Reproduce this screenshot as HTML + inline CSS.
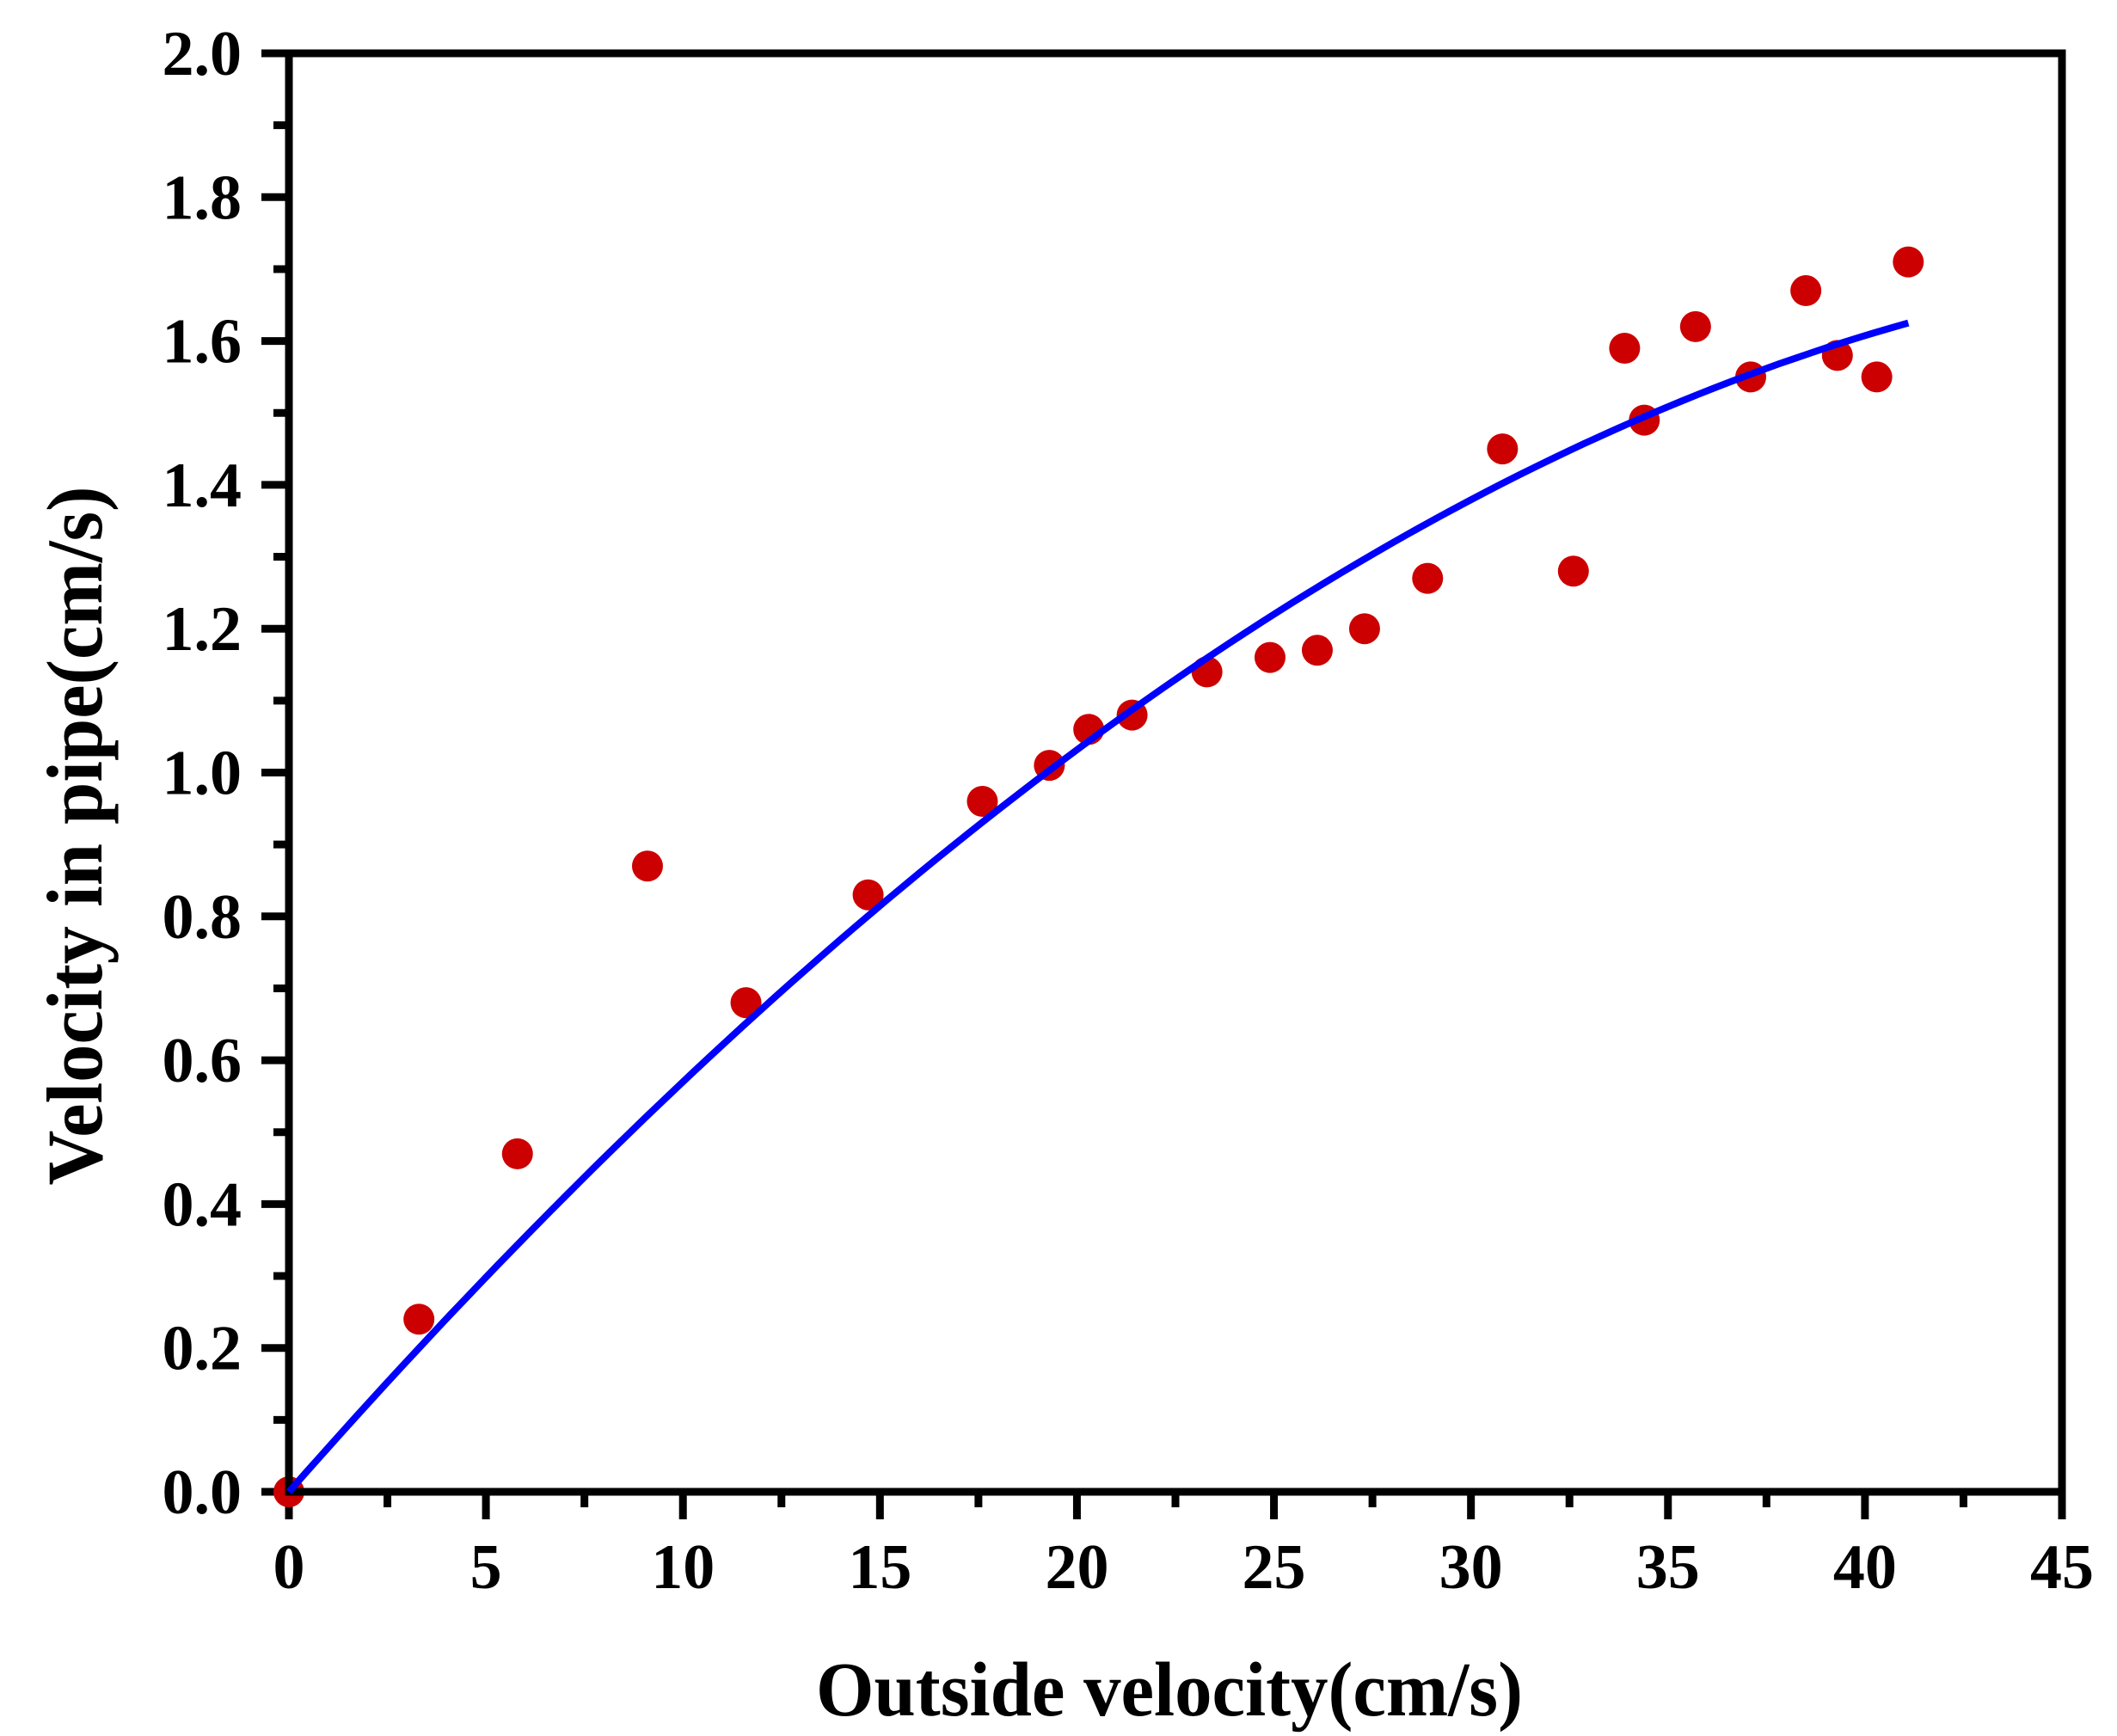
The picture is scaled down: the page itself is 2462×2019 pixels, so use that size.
<!DOCTYPE html>
<html><head><meta charset="utf-8"><style>
html,body{margin:0;padding:0;background:#fff;}
svg{display:block;}
text{font-family:"Liberation Serif",serif;font-weight:bold;fill:#000;}
</style></head><body>
<svg id="chart" width="2462" height="2019" viewBox="0 0 2462 2019" xmlns="http://www.w3.org/2000/svg">
<g id="axes"></g>
<g id="fit"></g>
<g id="pts"></g>
<g id="frame"></g>
<text x="1360" y="1995" font-size="90" text-anchor="middle" textLength="822" lengthAdjust="spacingAndGlyphs">Outside velocity(cm/s)</text>
<text transform="translate(118,972) rotate(-90)" font-size="92" text-anchor="middle" textLength="813" lengthAdjust="spacingAndGlyphs">Velocity in pipe(cm/s)</text>
</svg>
<script>
const xValues=[0,3.3,5.8,9.1,11.6,14.7,17.6,19.3,20.3,21.4,23.3,24.9,26.1,27.3,28.9,30.8,32.6,33.9,34.4,35.7,37.1,38.5,39.3,40.3,41.1];
const yValues=[0,0.24,0.47,0.87,0.68,0.83,0.96,1.01,1.06,1.08,1.14,1.16,1.17,1.20,1.27,1.45,1.28,1.59,1.49,1.62,1.55,1.67,1.58,1.55,1.71];
const fitCoefs=[0,0.06224,-0.0005146,-0.000000918];
const fitRange=[0,41.1];
const xTicks=[0,5,10,15,20,25,30,35,40,45];
const yTicks=[0,0.2,0.4,0.6,0.8,1.0,1.2,1.4,1.6,1.8,2.0];
const yTickLabels=["0.0","0.2","0.4","0.6","0.8","1.0","1.2","1.4","1.6","1.8","2.0"];

const L=336,R=2398,T=62,B=1735;
const sx=v=>L+(v-0)/(45-0)*(R-L);
const sy=v=>B-(v-0)/(2-0)*(B-T);
const NS="http://www.w3.org/2000/svg";
function mk(tag,parent){const e=document.createElementNS(NS,tag);parent.appendChild(e);return e;}
const axes=document.getElementById('axes');
const frame=document.getElementById('frame');

const rect=mk('rect',frame);


rect.setAttribute('x',L);rect.setAttribute('y',T);rect.setAttribute('width',R-L);rect.setAttribute('height',B-T);
rect.setAttribute('fill','none');rect.setAttribute('stroke','#000');rect.setAttribute('stroke-width','9');

xTicks.forEach((v,i)=>{
  const x=sx(v);
  const t=mk('line',axes);
  
  
  t.setAttribute('x1',x);t.setAttribute('x2',x);t.setAttribute('y1',B);t.setAttribute('y2',B+32);
  t.setAttribute('stroke','#000');t.setAttribute('stroke-width','9');
  const lb=mk('text',axes);
  
  
  lb.setAttribute('x',x);lb.setAttribute('y',1847);lb.setAttribute('font-size','74');lb.setAttribute('text-anchor','middle');
  lb.textContent=String(v);
  if(i<xTicks.length-1){
    const mx=sx(v+2.5);
    const m=mk('line',axes);
    
    
    m.setAttribute('x1',mx);m.setAttribute('x2',mx);m.setAttribute('y1',B);m.setAttribute('y2',B+18);
    m.setAttribute('stroke','#000');m.setAttribute('stroke-width','9');
  }
});
yTicks.forEach((v,i)=>{
  const y=sy(v);
  const t=mk('line',axes);
  
  
  t.setAttribute('x1',L-32);t.setAttribute('x2',L);t.setAttribute('y1',y);t.setAttribute('y2',y);
  t.setAttribute('stroke','#000');t.setAttribute('stroke-width','9');
  const lb=mk('text',axes);
  
  
  lb.setAttribute('x',281);lb.setAttribute('y',y+25);lb.setAttribute('font-size','74');lb.setAttribute('text-anchor','end');
  lb.textContent=yTickLabels[i];
  if(i<yTicks.length-1){
    const my=sy(v+0.1);
    const m=mk('line',axes);
    
    
    m.setAttribute('x1',L-18);m.setAttribute('x2',L);m.setAttribute('y1',my);m.setAttribute('y2',my);
    m.setAttribute('stroke','#000');m.setAttribute('stroke-width','9');
  }
});

const fit=document.getElementById('fit');
let d='';
for(let k=0;k<=100;k++){
  const xv=fitRange[0]+(fitRange[1]-fitRange[0])*k/100;
  const yv=fitCoefs[0]+fitCoefs[1]*xv+fitCoefs[2]*xv*xv+fitCoefs[3]*xv*xv*xv;
  d+=(k?'L':'M')+sx(xv).toFixed(1)+','+sy(yv).toFixed(1);
}
const p=mk('path',fit);


p.setAttribute('d',d);p.setAttribute('fill','none');p.setAttribute('stroke','#0000ff');p.setAttribute('stroke-width','8');

const pts=document.getElementById('pts');
xValues.forEach((xv,i)=>{
  const c=mk('circle',pts);
  
  
  c.setAttribute('cx',sx(xv));c.setAttribute('cy',sy(yValues[i]));c.setAttribute('r','18');c.setAttribute('fill','#cc0000');
});
fit.parentNode.appendChild(fit);
frame.parentNode.insertBefore(frame,fit);
</script>
</body></html>
